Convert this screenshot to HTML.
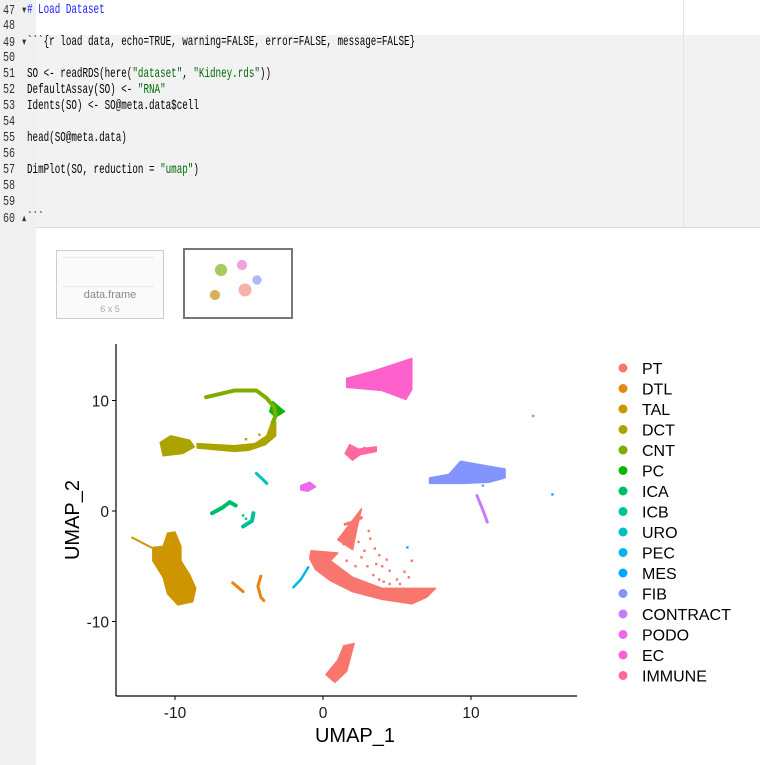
<!DOCTYPE html>
<html><head><meta charset="utf-8">
<style>
body{margin:0;width:760px;height:765px;overflow:hidden;background:#fff;font-family:"Liberation Sans",sans-serif;position:relative}
#gutter{position:absolute;left:0;top:0;width:36px;height:765px;background:#f0f0f0}
.chunkbg{position:absolute;left:36px;top:35px;width:724px;height:192px;background:#f2f2f2}
.margin{position:absolute;left:683px;top:0;width:1px;height:227px;background:#e2e2e2}
.ln{position:absolute;left:3px;font:14px "Liberation Mono",monospace;color:#333;transform:scaleX(0.72);transform-origin:left}
.code{position:absolute;left:27px;font:14px "Liberation Mono",monospace;color:#000;white-space:pre;transform:scaleX(0.66);transform-origin:left}
.cm{color:#2020ff}.st{color:#036a07}
.outsep{position:absolute;left:36px;top:227px;width:724px;height:1px;background:#ddd}
.thumb{position:absolute;background:#fff;box-sizing:border-box}
</style></head><body>
<div id="gutter"></div>
<div class="chunkbg"></div>
<div class="margin"></div>
<div class="outsep"></div>
<div>
<div class="ln" style="top:2px">47 ▾</div><div class="code cm" style="top:2px"># Load Dataset</div>
<div class="ln" style="top:18px">48</div>
<div class="ln" style="top:34px">49 ▾</div><div class="code" style="top:34px">&#96;&#96;&#96;{r load data, echo=TRUE, warning=FALSE, error=FALSE, message=FALSE}</div>
<div class="ln" style="top:50px">50</div>
<div class="ln" style="top:66px">51</div><div class="code" style="top:66px">SO &lt;- readRDS(here(<span class="st">"dataset"</span>, <span class="st">"Kidney.rds"</span>))</div>
<div class="ln" style="top:82px">52</div><div class="code" style="top:82px">DefaultAssay(SO) &lt;- <span class="st">"RNA"</span></div>
<div class="ln" style="top:98px">53</div><div class="code" style="top:98px">Idents(SO) &lt;- SO@meta.data$cell</div>
<div class="ln" style="top:114px">54</div>
<div class="ln" style="top:130px">55</div><div class="code" style="top:130px">head(SO@meta.data)</div>
<div class="ln" style="top:146px">56</div>
<div class="ln" style="top:162px">57</div><div class="code" style="top:162px">DimPlot(SO, reduction = <span class="st">"umap"</span>)</div>
<div class="ln" style="top:178px">58</div>
<div class="ln" style="top:194px">59</div>
<div class="ln" style="top:210px">60 ▴</div><div class="code" style="top:210px">&#96;&#96;&#96;</div>
</div>
<div class="thumb" style="left:56px;top:250px;width:108px;height:69px;border:1px solid #ccc;background:#fafafa">
<div style="position:absolute;left:6px;top:6px;width:90px;height:28px;border-top:1px dotted #ddd;border-bottom:1px dotted #ddd"></div>
<div style="position:absolute;left:0;width:106px;top:38px;text-align:center;font:11px 'Liberation Sans',sans-serif;color:#888">data.frame</div>
<div style="position:absolute;left:0;width:106px;top:53px;text-align:center;font:9px 'Liberation Sans',sans-serif;color:#aaa">6 x 5</div>
</div>
<div class="thumb" style="left:183px;top:248px;width:110px;height:71px;border:2px solid #777">
<div style="position:absolute;left:18px;top:10px;width:60px;height:50px;background:radial-gradient(circle at 70% 60%,#f8b0aa 0 12%,transparent 13%),radial-gradient(circle at 20% 70%,#d9b060 0 8%,transparent 9%),radial-gradient(circle at 30% 20%,#a8c860 0 10%,transparent 11%),radial-gradient(circle at 65% 10%,#f5a0d8 0 8%,transparent 9%),radial-gradient(circle at 90% 40%,#b0b8ff 0 7%,transparent 8%)"></div>
</div>

<svg id="chart" width="760" height="765" style="position:absolute;left:0;top:0"></svg>
<script>
const clusters=["PT","DTL","TAL","DCT","CNT","PC","ICA","ICB","URO","PEC","MES","FIB","CONTRACT","PODO","EC","IMMUNE"];
const colors=["#F8766D","#E68613","#CD9600","#ABA300","#7CAE00","#0CB702","#00BE67","#00C19A","#00BFC4","#00B8E7","#00A9FF","#8494FF","#C77CFF","#ED68ED","#FF61CC","#FF68A1"];
const xTicks=[-10,0,10];
const yTicks=[-10,0,10];
const blobs=[
 [14,[[1.6,12.0],[3.5,12.7],[6.0,13.8],[6.0,11.0],[5.6,10.1],[4,10.9],[1.6,11.2]]],
 [0,[[-0.8,-3.6],[1,-3.8],[0.5,-4.5],[2,-6],[4,-7],[6,-7],[7.6,-7.0],[7,-7.8],[6,-8.4],[4,-8.0],[2,-7.3],[0.5,-6.3],[-0.5,-5.3],[-0.9,-4.3]]],
 [0,[[1.0,-2.6],[2.6,0.2],[2.3,-1.5],[2.0,-3.5]]],
 [0,[[1.4,-12.2],[2.1,-12.0],[1.6,-14.5],[0.8,-15.5],[0.2,-14.8],[1.0,-13.5]]],
 [2,[[-10.5,-2.0],[-10.0,-1.9],[-9.6,-3.2],[-9.6,-4.5],[-9.0,-5.8],[-8.6,-7],[-8.8,-8.2],[-9.8,-8.5],[-10.5,-7.5],[-10.8,-6],[-11.5,-4.5],[-11.5,-3.3],[-10.8,-3.2]]],
 [3,[[-11,6.2],[-10.3,6.8],[-9,6.4],[-8.7,5.8],[-9.5,5.2],[-10.8,5.0]]],
 [3,[[-8.5,6.1],[-6,5.9],[-4.6,6.1],[-3.8,6.8],[-3.5,7.9],[-3.2,8.1],[-3.2,6.8],[-3.9,6.0],[-5,5.5],[-6,5.4],[-8.5,5.7]]],
 [5,[[-3.4,9.9],[-2.6,9.0],[-3.2,8.5],[-3.6,9.0]]],
 [11,[[7.2,3.0],[8.5,3.3],[9.3,4.5],[11,4.1],[12.3,3.8],[12.3,3.0],[11.2,2.6],[9.5,2.5],[7.2,2.5]]],
 [15,[[1.5,5.2],[1.8,6.0],[2.4,5.6],[3.6,5.8],[3.6,5.4],[2.5,5.1],[2.0,4.6]]],
 [13,[[-1.5,2.3],[-0.9,2.6],[-0.5,2.2],[-1.0,1.8],[-1.5,1.9]]]
];
const strands=[
 [4,4,[[-7.9,10.3],[-6,10.9],[-4.5,10.9],[-3.8,10.2],[-3.3,9.4],[-3.2,8.6],[-3.4,8.0]]],
 [2,2,[[-12.9,-2.4],[-11.6,-3.3]]],
 [12,3,[[10.4,1.4],[10.8,0.1],[11.1,-1.0]]],
 [8,3,[[-4.5,3.4],[-4.1,2.9],[-3.8,2.5]]],
 [6,4,[[-7.5,-0.2],[-6.8,0.3],[-6.3,0.8],[-5.9,0.5]]],
 [7,4,[[-4.7,-0.2],[-4.8,-0.9],[-5.4,-1.4]]],
 [1,3,[[-6.1,-6.5],[-5.4,-7.3]]],
 [1,3,[[-4.2,-5.9],[-4.4,-6.8],[-4.2,-7.8],[-4.0,-8.1]]],
 [9,2.5,[[-2.0,-6.9],[-1.5,-6.2],[-1.0,-5.1]]],
 [0,3,[[1.5,-1.2],[2.0,-1.0],[2.6,-0.6]]]
];
const dots=[[10,15.5,1.5],[15,14.2,8.6],[0,3.2,-2.5],[0,3.5,-3.4],[0,3.8,-4.0],[0,4.0,-5.0],[0,4.5,-5.4],[0,5.0,-6.2],[0,4.1,-6.4],[0,3.0,-5.0],[0,2.6,-4.2],[0,2.2,-5.0],[0,3.4,-5.8],[0,2.8,-3.6],[0,3.1,-1.8],[0,6.0,-4.5],[0,5.5,-5.5],[0,5.8,-6.0],[0,4.5,-6.6],[0,3.8,-6.2],[9,5.7,-3.3],[0,1.6,-4.5],[0,2.0,-3.2],[0,4.3,-4.4],[0,5.2,-6.6],[3,-5.2,6.5],[3,-4.3,6.9],[6,-5.4,-0.4],[7,-5.2,-0.7],[11,10.8,2.3],[15,3.2,5.6],[15,2.8,5.7],[0,1.4,-3.0],[0,2.4,-2.8],[0,3.6,-4.8]];
const legendItems=clusters;

const svg=document.getElementById('chart');
const NS='http://www.w3.org/2000/svg';
const X0=116,X1=577,Y0=344,Y1=696;
const xs=v=>323+v*14.8;
const ys=v=>511-v*11.05;
function mk(t,a){const e=document.createElementNS(NS,t);for(const k in a)e.setAttribute(k,a[k]);svg.appendChild(e);return e;}
blobs.forEach(b=>{
 const e=mk('polygon',{points:b[1].map(p=>xs(p[0])+','+ys(p[1])).join(' '),fill:colors[b[0]],stroke:colors[b[0]],'stroke-width':1.5,'stroke-linejoin':'round'});
 
 
});
strands.forEach(s=>{
 const e=mk('polyline',{points:s[2].map(p=>xs(p[0])+','+ys(p[1])).join(' '),fill:'none',stroke:colors[s[0]],'stroke-width':s[1],'stroke-linecap':'round','stroke-linejoin':'round'});
 
 
});
dots.forEach(d=>{
 const e=mk('rect',{x:xs(d[1])-1.2,y:ys(d[2])-1.2,width:2.4,height:2.4,fill:colors[d[0]]});
 
 
});
let a=mk('line',{x1:X0,y1:Y0,x2:X0,y2:Y1,stroke:'#000','stroke-width':1.2});


a=mk('line',{x1:X0,y1:Y1,x2:X1,y2:Y1,stroke:'#000','stroke-width':1.2});


xTicks.forEach(v=>{
 const t=mk('line',{x1:xs(v),x2:xs(v),y1:Y1,y2:Y1+4,stroke:'#000'});
 
 
 const l=mk('text',{x:xs(v),y:Y1+22,'text-anchor':'middle','font-size':15.5,fill:'#1a1a1a','font-family':'Liberation Sans, sans-serif'});
 l.textContent=v;
 
 
});
yTicks.forEach(v=>{
 const t=mk('line',{x1:X0-4,x2:X0,y1:ys(v),y2:ys(v),stroke:'#000'});
 
 
 const l=mk('text',{x:X0-7,y:ys(v)+6,'text-anchor':'end','font-size':15.5,fill:'#1a1a1a','font-family':'Liberation Sans, sans-serif'});
 l.textContent=v;
 
 
});
let t=mk('text',{x:355,y:742,'text-anchor':'middle','font-size':20,fill:'#000','font-family':'Liberation Sans, sans-serif'});
t.textContent='UMAP_1';


t=mk('text',{x:0,y:0,'text-anchor':'middle','font-size':20,fill:'#000','font-family':'Liberation Sans, sans-serif',transform:'translate(79,520) rotate(-90)'});
t.textContent='UMAP_2';


legendItems.forEach((n,i)=>{
 const y=368+i*20.5;
 const c=mk('circle',{cx:623,cy:y,r:4.5,fill:colors[i]});
 
 
 const l=mk('text',{x:642,y:y+6,'font-size':16,fill:'#000','font-family':'Liberation Sans, sans-serif'});
 l.textContent=n;
 
 
});
</script>
</body></html>
